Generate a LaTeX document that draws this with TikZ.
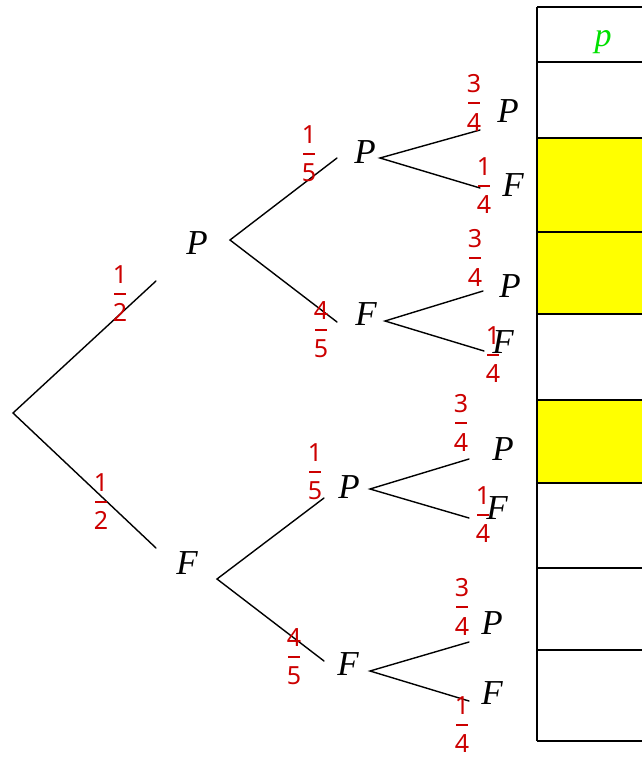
\documentclass[tikz,border=0pt]{standalone}
\usepackage{fontspec}
\setmainfont{Liberation Serif}
\newfontfamily\digitfont{Noto Sans}
\definecolor{probred}{RGB}{204,0,0}
\definecolor{headgreen}{RGB}{0,224,0}
\definecolor{hilite}{RGB}{255,255,0}
% stacked fraction: numerator, bar, denominator
\newcommand\stackfrac[2]{\vbox{\offinterlineskip\halign{\hfil##\hfil\cr #1\cr\noalign{\kern9pt}\rule{12pt}{2pt}\cr\noalign{\kern9pt}#2\cr}}}
\tikzset{
  prob/.style={text=probred, font=\digitfont\fontsize{25}{25}\selectfont, inner sep=0pt},
  outcome/.style={font=\fontsize{35}{40}\selectfont\itshape, inner sep=0pt},
  branch/.style={line width=1.4pt, line cap=round},
  gridline/.style={line width=1.8pt},
}
\begin{document}
\begin{tikzpicture}[x=1pt, y=-1pt]
\useasboundingbox (0,0) rectangle (642,758);
\clip (0,0) rectangle (642,758);

% ---- table on the right ----
\fill[hilite] (537,138) rectangle (660,314);
\fill[hilite] (537,400) rectangle (660,483);
\draw[gridline] (537,7) -- (537,741);
\foreach \yy in {7,62,138,232,314,400,483,650,741}
  \draw[gridline] (537,\yy) -- (660,\yy);
\draw[line width=2.6pt] (537,568) -- (660,568);
\node[font=\fontsize{34}{34}\selectfont\itshape, text=headgreen, inner sep=0pt] (head) at (603,42) {p};

% ---- tree: branching points ----
\coordinate (root) at (13,413);
\coordinate (e1) at (156,281);
\coordinate (e2) at (156,548);
\coordinate (o1) at (230,240);
\coordinate (o2) at (217,579);
\coordinate (e11) at (337,158);
\coordinate (e12) at (337,322);
\coordinate (e21) at (324,498);
\coordinate (e22) at (324,661);
\coordinate (o11) at (380,158);
\coordinate (o12) at (385,321);
\coordinate (o21) at (370,489);
\coordinate (o22) at (370,671);
\coordinate (e111) at (480,130);
\coordinate (e112) at (480,188);
\coordinate (e121) at (483,291);
\coordinate (e122) at (484,351);
\coordinate (e211) at (469,459);
\coordinate (e212) at (469,518);
\coordinate (e221) at (469,642);
\coordinate (e222) at (469,701);

% ---- outcomes ----
\node[outcome] (P) at (197,243) {P};
\node[outcome] (F) at (187,563) {F};
\node[outcome] (PP) at (365,152) {P};
\node[outcome] (PF) at (366,314) {F};
\node[outcome] (FP) at (349,487) {P};
\node[outcome] (FF) at (348,664) {F};
\node[outcome] (PPP) at (508,111) {P};
\node[outcome] (PPF) at (513,185) {F};
\node[outcome] (PFP) at (510,286) {P};
\node[outcome] (PFF) at (503,342) {F};
\node[outcome] (FPP) at (503,449) {P};
\node[outcome] (FPF) at (497,508) {F};
\node[outcome] (FFP) at (492,623) {P};
\node[outcome] (FFF) at (492,693) {F};

% ---- branches ----
\draw[branch] (e1) -- (root) -- (e2);
\draw[branch] (e11) -- (o1) -- (e12);
\draw[branch] (e21) -- (o2) -- (e22);
\draw[branch] (e111) -- (o11) -- (e112);
\draw[branch] (e121) -- (o12) -- (e122);
\draw[branch] (e211) -- (o21) -- (e212);
\draw[branch] (e221) -- (o22) -- (e222);

% ---- probabilities ----
\node[prob] (pP) at (120,294) {\stackfrac{1}{2}};
\node[prob] (pF) at (101,502) {\stackfrac{1}{2}};
\node[prob] (pPP) at (309,154) {\stackfrac{1}{5}};
\node[prob] (pPF) at (321,330) {\stackfrac{4}{5}};
\node[prob] (pFP) at (315,472) {\stackfrac{1}{5}};
\node[prob] (pFF) at (294,657) {\stackfrac{4}{5}};
\node[prob] (pPPP) at (474,103) {\stackfrac{3}{4}};
\node[prob] (pPPF) at (484,186) {\stackfrac{1}{4}};
\node[prob] (pPFP) at (475,258) {\stackfrac{3}{4}};
\node[prob] (pPFF) at (493,355) {\stackfrac{1}{4}};
\node[prob] (pFPP) at (461,423) {\stackfrac{3}{4}};
\node[prob] (pFPF) at (483,515) {\stackfrac{1}{4}};
\node[prob] (pFFP) at (462,607) {\stackfrac{3}{4}};
\node[prob] (pFFF) at (462,725) {\stackfrac{1}{4}};
\end{tikzpicture}
\end{document}
